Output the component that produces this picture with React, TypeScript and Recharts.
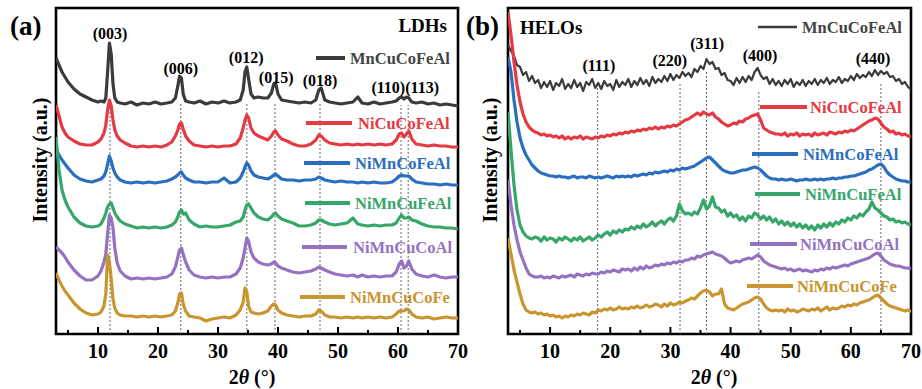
import React from "react";
import { LineChart, Line, XAxis, YAxis, ReferenceLine, ReferenceArea, ReferenceDot } from "recharts";

const FONT = "Liberation Serif, Tinos, DejaVu Serif, serif";

const SERIES = ["MnCuCoFeAl", "NiCuCoFeAl", "NiMnCoFeAl", "NiMnCuFeAl", "NiMnCuCoAl", "NiMnCuCoFe"];
const COLORS = ["#3b3b3b", "#e53a43", "#2a6ebf", "#36a66b", "#9472c2", "#c8952e"];

// ---- (a) LDHs : 2theta grid and stacked intensities (a.u., offset included)
const X_A = [
  3, 3.5, 4, 4.5, 5, 6, 7, 8, 9, 10,
  10.5, 11, 11.3, 11.6, 11.9, 12.2, 12.5, 12.8, 13.2, 13.7,
  14.5, 15.5, 16.5, 17.5, 18.5, 19.5, 20.5, 21.5, 22.3, 22.9,
  23.3, 23.6, 23.9, 24.2, 24.6, 25.2, 26, 27, 28, 29,
  30, 31, 32, 33, 33.7, 34.2, 34.5, 34.8, 35.1, 35.5,
  36, 36.7, 37.5, 38.3, 38.9, 39.3, 39.6, 40, 40.6, 41.5,
  42.5, 43.5, 44.5, 45.5, 46.3, 46.8, 47.2, 47.8, 48.6, 49.5,
  50.5, 51.5, 52.5, 53.3, 54, 55, 56, 57, 58, 59,
  59.7, 60.2, 60.6, 61, 61.4, 61.8, 62.3, 63, 64, 65,
  66, 67, 68, 69, 70,
];
const LDH_MnCuCoFeAl = [
  276, 269, 262, 257, 252, 245, 240, 237, 234, 232,
  233, 232, 236, 262, 291, 280, 250, 236, 232, 231,
  230, 232, 229, 231, 230, 232, 230, 231, 232, 236,
  248, 258, 256, 240, 233, 232, 231, 233, 230, 232,
  231, 233, 231, 232, 234, 244, 262, 267, 255, 240,
  236, 237, 236, 236, 241, 250, 251, 240, 234, 233,
  232, 231, 232, 231, 234, 244, 246, 234, 232, 231,
  230, 231, 232, 237, 231, 230, 232, 230, 231, 232,
  233, 236, 237, 235, 237, 236, 232, 231, 232, 230,
  231, 229, 230, 229, 228,
];
const LDH_NiCuCoFeAl = [
  229, 218, 207, 201, 197, 193, 190, 189, 189, 192,
  195, 201, 209, 224, 234, 228, 214, 204, 198, 194,
  191, 188, 187, 188, 187, 188, 187, 189, 192, 198,
  204, 210, 211, 205, 198, 193, 189, 188, 187, 188,
  187, 188, 188, 190, 196, 206, 214, 219, 216, 206,
  201, 198, 196, 194, 198, 202, 203, 199, 195, 193,
  190, 188, 188, 190, 194, 199, 198, 194, 191, 190,
  189, 190, 189, 190, 189, 190, 189, 190, 189, 190,
  194, 200, 201, 197, 200, 203, 195, 190, 189, 188,
  189, 188, 188, 187, 187,
];
const LDH_NiMnCoFeAl = [
  184, 179, 174, 170, 166, 159, 155, 153, 152, 154,
  155, 158, 162, 170, 178, 173, 166, 161, 157, 154,
  152, 151, 152, 151, 152, 151, 152, 153, 155, 157,
  159, 161, 162, 159, 156, 154, 152, 152, 151, 152,
  152, 156, 151, 152, 156, 162, 167, 171, 169, 163,
  159, 157, 156, 155, 157, 159, 160, 158, 155, 154,
  154, 153, 154, 154, 155, 157, 156, 154, 153, 152,
  153, 152, 152, 151, 152, 151, 152, 151, 151, 152,
  155, 158, 159, 158, 158, 158, 155, 152, 151, 150,
  150, 149, 150, 149, 149,
];
const LDH_NiMnCuFeAl = [
  197, 164, 144, 134, 127, 117, 111, 108, 107, 108,
  110, 116, 121, 127, 130, 131, 126, 121, 117, 113,
  110, 108, 106, 107, 106, 107, 106, 107, 109, 112,
  117, 122, 124, 120, 121, 114, 110, 107, 108, 107,
  107, 108, 109, 112, 113, 117, 124, 129, 130, 126,
  121, 117, 115, 114, 117, 120, 121, 118, 115, 113,
  111, 108, 108, 109, 111, 114, 114, 112, 110, 109,
  110, 111, 116, 110, 109, 108, 109, 108, 109, 109,
  111, 116, 119, 116, 116, 117, 114, 113, 110, 108,
  107, 107, 106, 106, 105,
];
const LDH_NiMnCuCoAl = [
  87, 84, 81, 77, 72, 64, 58, 54, 54, 58,
  63, 72, 80, 100, 119, 116, 106, 86, 71, 63,
  58, 55, 56, 55, 56, 55, 56, 57, 60, 67,
  77, 84, 86, 80, 72, 64, 59, 57, 56, 57,
  56, 57, 57, 60, 66, 76, 86, 96, 93, 82,
  76, 72, 70, 69, 70, 72, 71, 68, 66, 64,
  62, 61, 62, 63, 65, 67, 66, 64, 62, 60,
  59, 58, 59, 57, 59, 57, 58, 57, 58, 58,
  62, 70, 73, 66, 68, 73, 65, 60, 58, 57,
  59, 57, 56, 57, 57,
];
const LDH_NiMnCuCoFe = [
  61, 54, 48, 43, 39, 31, 25, 21, 19, 20,
  22, 28, 40, 79, 72, 55, 35, 26, 21, 19,
  18, 18, 17, 18, 17, 18, 17, 18, 19, 23,
  31, 40, 41, 30, 23, 18, 17, 16, 13, 15,
  16, 17, 16, 19, 24, 32, 46, 42, 28, 22,
  21, 20, 21, 23, 28, 30, 29, 24, 21, 19,
  18, 17, 18, 18, 20, 24, 23, 19, 17, 17,
  16, 17, 16, 17, 16, 17, 16, 17, 16, 17,
  20, 23, 23, 23, 25, 24, 20, 17, 16, 17,
  15, 16, 17, 16, 16,
];

// ---- (b) HELOs
const X_B = [
  3, 3.5, 4, 4.5, 5, 5.5, 6, 6.5, 7, 7.5,
  8, 8.5, 9, 9.5, 10, 10.5, 11, 11.5, 12, 12.5,
  13, 13.5, 14, 14.5, 15, 15.5, 16, 16.5, 17, 17.5,
  18, 18.5, 19, 19.5, 20, 20.5, 21, 21.5, 22, 22.5,
  23, 23.5, 24, 24.5, 25, 25.5, 26, 26.5, 27, 27.5,
  28, 28.5, 29, 29.5, 30, 30.5, 31, 31.5, 32, 32.5,
  33, 33.5, 34, 34.5, 35, 35.5, 36, 36.5, 37, 37.5,
  38, 38.5, 39, 39.5, 40, 40.5, 41, 41.5, 42, 42.5,
  43, 43.5, 44, 44.5, 45, 45.5, 46, 46.5, 47, 47.5,
  48, 48.5, 49, 49.5, 50, 50.5, 51, 51.5, 52, 52.5,
  53, 53.5, 54, 54.5, 55, 55.5, 56, 56.5, 57, 57.5,
  58, 58.5, 59, 59.5, 60, 60.5, 61, 61.5, 62, 62.5,
  63, 63.5, 64, 64.5, 65, 65.5, 66, 66.5, 67, 67.5,
  68, 68.5, 69, 69.5, 70,
];
const HELO_MnCuCoFeAl = [
  289, 283, 278, 269, 267, 259, 262, 253, 258, 251,
  254, 246, 252, 247, 253, 244, 251, 248, 255, 245,
  250, 246, 254, 247, 251, 243, 252, 249, 255, 246,
  251, 245, 253, 248, 250, 244, 254, 247, 252, 249,
  255, 247, 253, 249, 256, 250, 254, 248, 257, 251,
  255, 252, 258, 253, 260, 254, 259, 256, 262, 258,
  261, 257, 265, 262, 268, 265, 275, 270, 272, 265,
  266, 259, 261, 254, 253, 249, 256, 251, 257, 252,
  258, 254, 262, 266, 259, 255, 257, 250, 255, 249,
  253, 248, 254, 250, 255, 247, 252, 249, 254, 248,
  253, 250, 255, 249, 254, 251, 256, 250, 254, 252,
  257, 251, 255, 253, 258, 254, 260, 256, 259, 257,
  262, 258, 264, 259, 263, 260, 262, 257, 258, 253,
  255, 250, 252, 247, 245,
];
const HELO_NiCuCoFeAl = [
  322, 299, 272, 249, 232, 220, 212, 207, 204, 202,
  201, 199, 200, 198, 199, 197, 198, 196, 198, 195,
  197, 195, 197, 196, 198, 195, 197, 196, 195, 197,
  196, 198, 197, 199, 198, 200, 199, 201, 200, 202,
  201, 203, 202, 204, 203, 205, 204, 206, 205, 207,
  205, 207, 206, 208, 207, 209, 208, 210, 212, 214,
  215, 217, 219, 221, 219, 222, 220, 219, 221, 217,
  215, 212, 210, 208, 209, 211, 210, 213, 212, 215,
  216, 218, 219, 220, 214, 206, 204, 202, 201, 200,
  200, 199, 201, 198, 200, 199, 201, 198, 200, 199,
  200, 198, 201, 199, 200, 201, 199, 202, 201, 200,
  202, 201, 203, 202, 204, 203, 205, 207, 209, 211,
  213, 214, 216, 215, 211, 207, 205, 202, 203, 200,
  201, 199, 200, 198, 197,
];
const HELO_NiMnCoFeAl = [
  277, 262, 234, 212, 196, 186, 179, 174, 169, 166,
  163, 161, 160, 159, 158, 158, 157, 158, 157, 157,
  156, 157, 158, 156, 157, 157, 156, 158, 157, 156,
  157, 156, 157, 158, 157, 156, 158, 157, 158, 157,
  158, 157, 159, 158, 159, 160, 159, 161, 160, 162,
  161, 162, 163, 162, 164, 163, 165, 164, 166, 165,
  166, 167, 168, 170, 172, 174, 176, 177, 174, 171,
  168, 165, 163, 162, 161, 161, 162, 163, 164, 164,
  165, 166, 167, 166, 164, 161, 158, 156, 155, 155,
  154, 155, 154, 154, 155, 154, 153, 154, 154, 155,
  154, 154, 155, 154, 155, 154, 155, 155, 156, 155,
  156, 156, 157, 157, 158, 158, 159, 160, 161, 162,
  164, 165, 167, 169, 170, 167, 162, 159, 157, 155,
  154, 153, 153, 152, 152,
];
const HELO_NiMnCuFeAl = [
  222, 184, 149, 124, 109, 102, 98, 96, 95, 97,
  96, 93, 97, 94, 96, 95, 92, 96, 94, 97,
  95, 93, 96, 94, 97, 93, 95, 97, 94, 96,
  99, 97, 100, 102, 99, 103, 101, 104, 102, 105,
  104, 107, 105, 108, 106, 110, 107, 109, 112, 108,
  111, 113, 110, 114, 116, 113, 118, 130, 123, 120,
  121, 119, 122, 120, 126, 134, 125, 128, 137, 127,
  126, 122, 124, 118, 121, 117, 119, 114, 117, 113,
  118, 116, 121, 119, 115, 118, 114, 117, 112, 115,
  110, 113, 109, 112, 108, 111, 107, 110, 106, 109,
  105, 108, 104, 109, 106, 110, 107, 111, 108, 112,
  110, 114, 112, 116, 114, 118, 116, 120, 118, 122,
  125, 132, 126, 124, 121, 118, 117, 114, 115, 112,
  113, 111, 112, 110, 109,
];
const HELO_NiMnCuCoAl = [
  154, 129, 109, 94, 82, 74, 66, 60, 58, 57,
  57, 58, 56, 57, 56, 58, 57, 56, 58, 57,
  58, 59, 57, 60, 59, 58, 60, 59, 61, 60,
  60, 62, 61, 63, 62, 64, 63, 62, 65, 64,
  65, 63, 66, 64, 67, 65, 68, 66, 67, 69,
  68, 70, 69, 71, 70, 72, 71, 73, 72, 74,
  74, 76, 75, 78, 77, 79, 80, 81, 82, 80,
  79, 78, 76, 73, 71, 72, 73, 72, 74, 75,
  76, 75, 77, 79, 77, 73, 71, 69, 68, 67,
  66, 65, 66, 64, 65, 63, 64, 65, 63, 64,
  63, 62, 64, 63, 65, 64, 66, 65, 67, 66,
  67, 68, 69, 68, 70, 71, 72, 73, 74, 75,
  76, 78, 80, 81, 78, 74, 72, 70, 69, 68,
  68, 67, 66, 66, 65,
];
const HELO_NiMnCuCoFe = [
  96, 80, 64, 52, 40, 30, 24, 22, 21, 22,
  20, 21, 19, 20, 18, 19, 17, 18, 16, 18,
  17, 19, 18, 20, 19, 21, 20, 19, 22, 21,
  24, 23, 25, 24, 26, 24, 25, 27, 25, 26,
  25, 27, 26, 28, 26, 27, 29, 27, 28, 30,
  29, 27, 30, 28, 31, 29, 30, 32, 31, 33,
  34, 36, 35, 38, 41, 43, 44, 42, 38, 40,
  40, 45, 30, 26, 25, 24, 26, 28, 30, 31,
  32, 34, 36, 37, 35, 30, 26, 24, 23, 24,
  23, 24, 22, 25, 23, 24, 22, 23, 25, 24,
  23, 25, 24, 26, 23, 25, 27, 24, 26, 25,
  26, 28, 27, 29, 28, 30, 29, 31, 32, 33,
  34, 36, 38, 39, 36, 33, 30, 28, 27, 26,
  25, 24, 23, 24, 22,
];

// axes / annotations
const X_TICKS = [5, 10, 15, 20, 25, 30, 35, 40, 45, 50, 55, 60, 65, 70];
const Y_TICKS_A = [11, 37.5, 64, 90.5, 117, 143.5, 170, 196.5, 223, 249.5, 276, 302.5];
const Y_TICKS_B = [19, 60, 101, 141.5, 182, 222.5, 263, 303];

const HKL_A = ["(003)", "(006)", "(012)", "(015)", "(018)", "(110)(113)"];
const HKL_A_X = [12, 23.8, 34.7, 39.7, 47, 61.2];
const HKL_A_Y = [301, 266, 277, 257, 254, 247];
const PEAKS_A = [12, 23.8, 34.8, 39.5, 47, 60.5, 61.7];
const PEAKS_A_TOP = [232, 232, 232, 232, 232, 229, 229];

const HKL_B = ["(111)", "(220)", "(311)", "(400)", "(440)"];
const HKL_B_X = [18.1, 29.9, 36.1, 44.9, 63.7];
const HKL_B_Y = [269, 274, 291, 279, 276];
const PEAKS_B = [17.9, 31.6, 36, 44.7, 65];
const PEAKS_B_TOP = [251, 251, 264, 244, 251];

const KEYS = ["s0", "s1", "s2", "s3", "s4", "s5"];

function buildRows(xs: number[], cols: number[][]) {
  return xs.map((x, i) => {
    const row: any = { x };
    cols.forEach((c, j) => (row[KEYS[j]] = c[i]));
    return row;
  });
}

const rowsA = buildRows(X_A, [LDH_MnCuCoFeAl, LDH_NiCuCoFeAl, LDH_NiMnCoFeAl, LDH_NiMnCuFeAl, LDH_NiMnCuCoAl, LDH_NiMnCuCoFe]);
const rowsB = buildRows(X_B, [HELO_MnCuCoFeAl, HELO_NiCuCoFeAl, HELO_NiMnCoFeAl, HELO_NiMnCuFeAl, HELO_NiMnCuCoAl, HELO_NiMnCuCoFe]);

const TXT = { fontFamily: FONT, fontWeight: 700 };

const XTick = (props: any) => {
  const { x, y, payload } = props;
  const major = payload.value % 10 === 0;
  return (
    <g>
      <line x1={x} y1={y} x2={x} y2={y - (major ? 7 : 4)} stroke="#000" strokeWidth={2} />
      {major && (
        <text x={x} y={y + 24} textAnchor="middle" style={{ ...TXT, fontSize: 20 }} fill="#000">
          {payload.value}
        </text>
      )}
    </g>
  );
};

const YTick = (props: any) => {
  const { x, y } = props;
  return <line x1={x} y1={y} x2={x + 5} y2={y} stroke="#000" strokeWidth={2} />;
};

function Panel({ rows, yTicks, hkl, hklX, hklY, peaks, peakTop, widths, marginLeft, marginRight, width }: any) {
  return (
    <LineChart width={width} height={389} data={rows} margin={{ top: 8, right: marginRight, left: marginLeft, bottom: 25 }}>
      <XAxis type="number" dataKey="x" domain={[3, 70]} ticks={X_TICKS} interval={0} allowDataOverflow
        tickSize={0} tickMargin={0} tickLine={false} axisLine={false} height={30} tick={<XTick />} />
      <YAxis type="number" domain={[0, 326]} ticks={yTicks} interval={0} allowDataOverflow width={0}
        tickSize={0} tickMargin={0} tickLine={false} axisLine={false} tick={<YTick />} />
      {peaks.map((p: number, i: number) => (
        <ReferenceLine key={`pk-${i}`} segment={[{ x: p, y: 0 }, { x: p, y: peakTop[i] }]}
          stroke="#666" strokeWidth={1} strokeDasharray="2 2" />
      ))}
      {KEYS.map((k, i) => (
        <Line key={k} type="linear" dataKey={k} stroke={COLORS[i]} strokeWidth={widths[i]} dot={false}
          isAnimationActive={false} strokeLinejoin="round" />
      ))}
      {hkl.map((t: string, i: number) => (
        <ReferenceDot key={`hkl-${i}`} x={hklX[i]} y={hklY[i]} r={0} fill="none" stroke="none"
          label={{ value: t, position: "center", fill: "#000", style: { ...TXT, fontSize: 16 } }} />
      ))}
      <ReferenceArea x1={3} x2={70} y1={0} y2={326} fill="none" stroke="#000" strokeWidth={2.6} ifOverflow="visible" />
    </LineChart>
  );
}

const LEGEND_A = [
  { x1: 316, x2: 345, y: 58, tx: 350 },
  { x1: 306, x2: 352, y: 123, tx: 358 },
  { x1: 304, x2: 350, y: 163, tx: 355 },
  { x1: 305, x2: 350, y: 203, tx: 355 },
  { x1: 302, x2: 347, y: 247, tx: 353 },
  { x1: 300, x2: 345, y: 297, tx: 350 },
];
const LEGEND_B = [
  { x1: 758, x2: 797, y: 27, tx: 802 },
  { x1: 760, x2: 807, y: 107, tx: 810 },
  { x1: 752, x2: 798, y: 154, tx: 803 },
  { x1: 755, x2: 800, y: 194, tx: 805 },
  { x1: 750, x2: 797, y: 244, tx: 800 },
  { x1: 747, x2: 793, y: 286, tx: 797 },
];

function Overlay() {
  const s = (size: number) => ({ ...TXT, fontSize: size });
  const legend = (items: any[], thin: boolean) =>
    items.map((it, i) => (
      <g key={i}>
        <line x1={it.x1} x2={it.x2} y1={it.y} y2={it.y} stroke={COLORS[i]} strokeWidth={thin && i === 0 ? 2.5 : 4} />
        <text x={it.tx} y={it.y} dominantBaseline="central" style={s(16.5)} fill={i === 0 ? "#444" : COLORS[i]}>
          {SERIES[i]}
        </text>
      </g>
    ));
  return (
    <svg width={922} height={389} style={{ position: "absolute", left: 0, top: 0, pointerEvents: "none" }}>
      <text x={10} y={26} dominantBaseline="central" style={s(27)}>(a)</text>
      <text x={466} y={26} dominantBaseline="central" style={s(27)}>(b)</text>
      <text x={447} y={25} textAnchor="end" dominantBaseline="central" style={s(19)}>LDHs</text>
      <text x={520} y={27} dominantBaseline="central" style={s(19)}>HELOs</text>
      <text x={252} y={377} textAnchor="middle" dominantBaseline="central" style={s(20)}>
        2<tspan fontStyle="italic">θ</tspan> (°)
      </text>
      <text x={714} y={377} textAnchor="middle" dominantBaseline="central" style={s(20)}>
        2<tspan fontStyle="italic">θ</tspan> (°)
      </text>
      <text transform="translate(40,160) rotate(-90)" textAnchor="middle" dominantBaseline="central" style={s(20)}>
        Intensity (a.u.)
      </text>
      <text transform="translate(490,160) rotate(-90)" textAnchor="middle" dominantBaseline="central" style={s(20)}>
        Intensity (a.u.)
      </text>
      {legend(LEGEND_A, false)}
      {legend(LEGEND_B, true)}
    </svg>
  );
}

export default function App() {
  return (
    <div style={{ position: "absolute", left: 0, top: 0, width: 922, height: 389, background: "#fff", overflow: "hidden", fontFamily: FONT }}>
      <div style={{ position: "absolute", left: 0, top: 0 }}>
        <Panel rows={rowsA} yTicks={Y_TICKS_A} hkl={HKL_A} hklX={HKL_A_X} hklY={HKL_A_Y} peaks={PEAKS_A} peakTop={PEAKS_A_TOP}
          widths={[3.2, 3.2, 3.2, 3.2, 3.2, 3.2]} marginLeft={56} marginRight={12} width={470} />
      </div>
      <div style={{ position: "absolute", left: 460, top: 0 }}>
        <Panel rows={rowsB} yTicks={Y_TICKS_B} hkl={HKL_B} hklX={HKL_B_X} hklY={HKL_B_Y} peaks={PEAKS_B} peakTop={PEAKS_B_TOP}
          widths={[2.2, 3.2, 3.2, 3.2, 3.2, 3.2]} marginLeft={48} marginRight={11} width={462} />
      </div>
      <Overlay />
    </div>
  );
}
